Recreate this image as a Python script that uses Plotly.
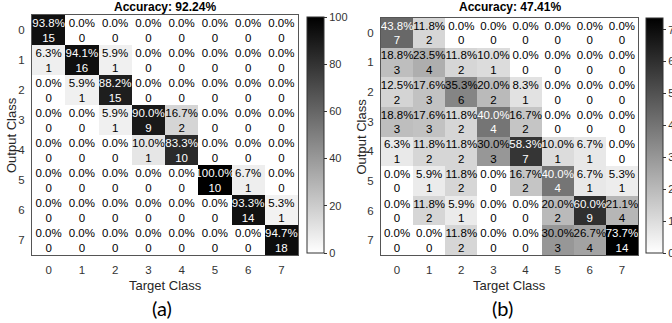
import math
import plotly.graph_objects as go

classes = [0, 1, 2, 3, 4, 5, 6, 7]
tick_labels = ["0", "1", "2", "3", "4", "5", "6", "7"]

# counts[output_class][target_class]
counts_a = [
    [15, 0, 0, 0, 0, 0, 0, 0],
    [1, 16, 1, 0, 0, 0, 0, 0],
    [0, 1, 15, 0, 0, 0, 0, 0],
    [0, 0, 1, 9, 2, 0, 0, 0],
    [0, 0, 0, 1, 10, 0, 0, 0],
    [0, 0, 0, 0, 0, 10, 1, 0],
    [0, 0, 0, 0, 0, 0, 14, 1],
    [0, 0, 0, 0, 0, 0, 0, 18],
]
counts_b = [
    [7, 2, 0, 0, 0, 0, 0, 0],
    [3, 4, 2, 1, 0, 0, 0, 0],
    [2, 3, 6, 2, 1, 0, 0, 0],
    [3, 3, 2, 4, 2, 0, 0, 0],
    [1, 2, 2, 3, 7, 1, 1, 0],
    [0, 1, 2, 0, 2, 4, 1, 1],
    [0, 2, 1, 0, 0, 2, 9, 4],
    [0, 0, 2, 0, 0, 3, 4, 14],
]
titles = ["Accuracy: 92.24%", "Accuracy: 47.41%"]
panel_labels = ["(a)", "(b)"]
cbar_ticks_a = [0, 20, 40, 60, 80, 100]
cbar_ticks_b = [0, 10, 20, 30, 40, 50, 60, 70]

W, H = 672, 323
FONT = "Liberation Sans"


def px_x(v):
    return v / W


def px_y(v):
    return 1 - v / H


def col_percent(counts):
    n = len(counts)
    sums = [sum(counts[i][j] for i in range(n)) for j in range(n)]
    return [[counts[i][j] / sums[j] * 100 if sums[j] else 0 for j in range(n)] for i in range(n)]


def fmt(p):
    return f"{math.floor(p * 10 + 0.5 + 1e-9) / 10:.1f}%"


panels = [
    dict(counts=counts_a, zmax=100, ticks=cbar_ticks_a, xd=(32, 298), yd=(15, 255),
         cb=(307, 17, 253), xa="x", ya="y", lbl_x=162),
    dict(counts=counts_b, zmax=None, ticks=cbar_ticks_b, xd=(381, 638), yd=(18, 255),
         cb=(646, 18, 253), xa="x2", ya="y2", lbl_x=502),
]

fig = go.Figure()
annotations = []
for k, p in enumerate(panels):
    pct = col_percent(p["counts"])
    zmax = p["zmax"] if p["zmax"] else max(max(r) for r in pct)
    cbx, cbt, cbb = p["cb"]
    fig.add_trace(go.Heatmap(
        z=pct, x=classes, y=classes, zmin=0, zmax=zmax,
        colorscale=[[0, "#ffffff"], [1, "#000000"]],
        hoverinfo="skip", xaxis=p["xa"], yaxis=p["ya"],
        colorbar=dict(
            x=px_x(cbx), xanchor="left", xpad=0, thickness=17,
            y=px_y((cbt + cbb) / 2), yanchor="middle", ypad=0,
            len=(cbb - cbt) / H, lenmode="fraction",
            outlinewidth=1, outlinecolor="#333333",
            tickvals=p["ticks"], ticks="outside", ticklen=3, tickcolor="#333333",
            tickfont=dict(family=FONT, size=11, color="#333333"),
        ),
    ))
    xs, y_top, y_bot, t_pct, t_cnt, colors = [], [], [], [], [], []
    for i in range(8):
        for j in range(8):
            xs.append(classes[j])
            y_top.append(classes[i] - 0.2)
            y_bot.append(classes[i] + 0.29)
            t_pct.append(fmt(pct[i][j]))
            t_cnt.append(str(p["counts"][i][j]))
            colors.append("#ffffff" if pct[i][j] > 0.5 * zmax else "#000000")
    for ys, txt in ((y_top, t_pct), (y_bot, t_cnt)):
        fig.add_trace(go.Scatter(
            x=xs, y=ys, mode="text", text=txt,
            textfont=dict(family=FONT, size=11.5, color=colors),
            hoverinfo="skip", showlegend=False, xaxis=p["xa"], yaxis=p["ya"],
        ))
    x0, x1 = p["xd"]
    y0, y1 = p["yd"]
    xc = (x0 + x1) / 2
    annotations += [
        dict(text=f"<b>{titles[k]}</b>", x=px_x(xc), y=px_y(7), xref="paper", yref="paper",
             showarrow=False, font=dict(family=FONT, size=12, color="#000000"),
             xanchor="center", yanchor="middle"),
        dict(text="Target Class", x=px_x(xc), y=px_y(285), xref="paper", yref="paper",
             showarrow=False, font=dict(family=FONT, size=13, color="#262626"),
             xanchor="center", yanchor="middle"),
        dict(text="Output Class", x=px_x(x0 - 20), y=px_y((y0 + y1) / 2), xref="paper",
             yref="paper", showarrow=False, textangle=-90,
             font=dict(family=FONT, size=13, color="#262626"),
             xanchor="center", yanchor="middle"),
        dict(text=panel_labels[k], x=px_x(p["lbl_x"]), y=px_y(308), xref="paper",
             yref="paper", showarrow=False, font=dict(family="Lato", size=20, color="#000000"),
             xanchor="center", yanchor="middle"),
    ]

axis_common = dict(
    tickvals=classes, ticktext=tick_labels, showgrid=False, zeroline=False,
    showline=True, linecolor="#555555", linewidth=1, mirror=True, ticks="",
    tickfont=dict(family=FONT, size=11.5, color="#333333"), fixedrange=True,
)
for k, p in enumerate(panels):
    x0, x1 = p["xd"]
    y0, y1 = p["yd"]
    sx = "" if k == 0 else "2"
    fig.update_layout(**{
        f"xaxis{sx}": dict(axis_common, domain=[px_x(x0), px_x(x1)], range=[-0.5, 7.5],
                           anchor=f"y{sx}", ticklabelstandoff=4),
        f"yaxis{sx}": dict(axis_common, domain=[px_y(y1), px_y(y0)], range=[7.5, -0.5],
                           anchor=f"x{sx}", ticklabelstandoff=4),
    })

fig.update_layout(
    width=W, height=H, margin=dict(l=0, r=0, t=0, b=0, autoexpand=False),
    paper_bgcolor="#ffffff", plot_bgcolor="#ffffff",
    annotations=annotations, showlegend=False,
)
fig.write_html(
    "out.html",
    config={"displayModeBar": False},
    post_script="document.body.style.margin='0';document.body.style.padding='0';",
)
